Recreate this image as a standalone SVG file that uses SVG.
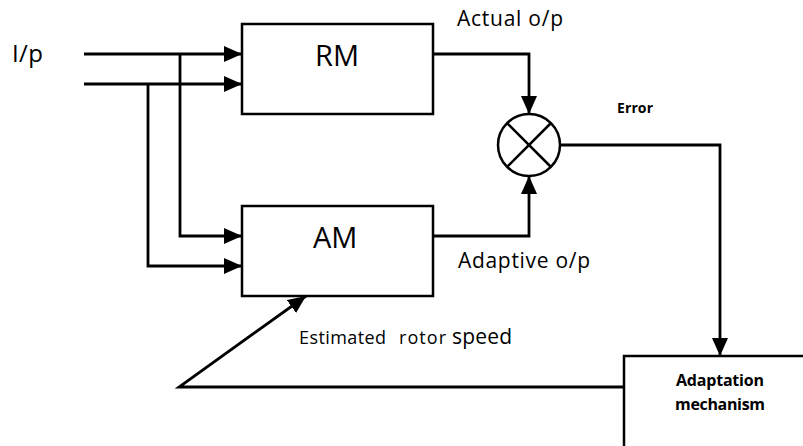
<svg xmlns="http://www.w3.org/2000/svg" width="803" height="446" viewBox="0 0 803 446">
<defs>
<marker id="arr" markerUnits="userSpaceOnUse" markerWidth="18" markerHeight="16" refX="18" refY="8" orient="auto" viewBox="0 0 18 16">
<path d="M0,0 L18,8 L0,16 Z" fill="#000"/>
</marker>
</defs>
<style>
.box{fill:#fff;stroke:#000;stroke-width:2.5}
.ln{fill:none;stroke:#000;stroke-width:2.8;marker-end:url(#arr)}
.t{font-family:"Open Sans","Liberation Sans",sans-serif;fill:#000}
.b{font-weight:bold}
</style>
<rect width="803" height="446" fill="#fff"/>
<g id="connectors">
<path class="ln" d="M84,54 H242"/>
<path class="ln" d="M84,84 H242"/>
<path class="ln" d="M180,54 V236 H242"/>
<path class="ln" d="M148,84 V266 H242"/>
<path class="ln" d="M433,54 H529 V114"/>
<path class="ln" d="M433,236 H529 V176"/>
<path class="ln" d="M561,145 H720 V356"/>
<path class="ln" d="M624,387 H179 L306,296"/>
</g>
<g id="rm">
<rect class="box" x="242" y="24" width="191" height="90"/>
<text class="t" x="315" y="66" font-size="29">RM</text>
</g>
<g id="am">
<rect class="box" x="242" y="206" width="191" height="90"/>
<text class="t" x="313" y="248" font-size="29">AM</text>
</g>
<g id="sum">
<circle class="box" cx="529" cy="145" r="31"/>
<path d="M507,123 L551,167 M551,123 L507,167" stroke="#000" stroke-width="2.5"/>
</g>
<g id="adapt">
<rect class="box" x="624" y="356" width="195" height="110"/>
<text class="t b" x="676" y="386" font-size="16" textLength="88">Adaptation</text>
<text class="t b" x="675" y="410" font-size="16" textLength="90">mechanism</text>
</g>
<g id="labels">
<text class="t" x="12" y="62" font-size="24" textLength="31">I/p</text>
<text class="t" x="457" y="26" font-size="21" textLength="106">Actual o/p</text>
<text class="t b" x="617" y="113" font-size="14" textLength="36">Error</text>
<text class="t" x="458" y="268" font-size="21" textLength="132">Adaptive o/p</text>
<text class="t" y="344" font-size="18"><tspan x="299" textLength="87">Estimated</tspan><tspan x="399" textLength="47">rotor</tspan><tspan x="452" font-size="21" textLength="60">speed</tspan></text>
</g>
</svg>
